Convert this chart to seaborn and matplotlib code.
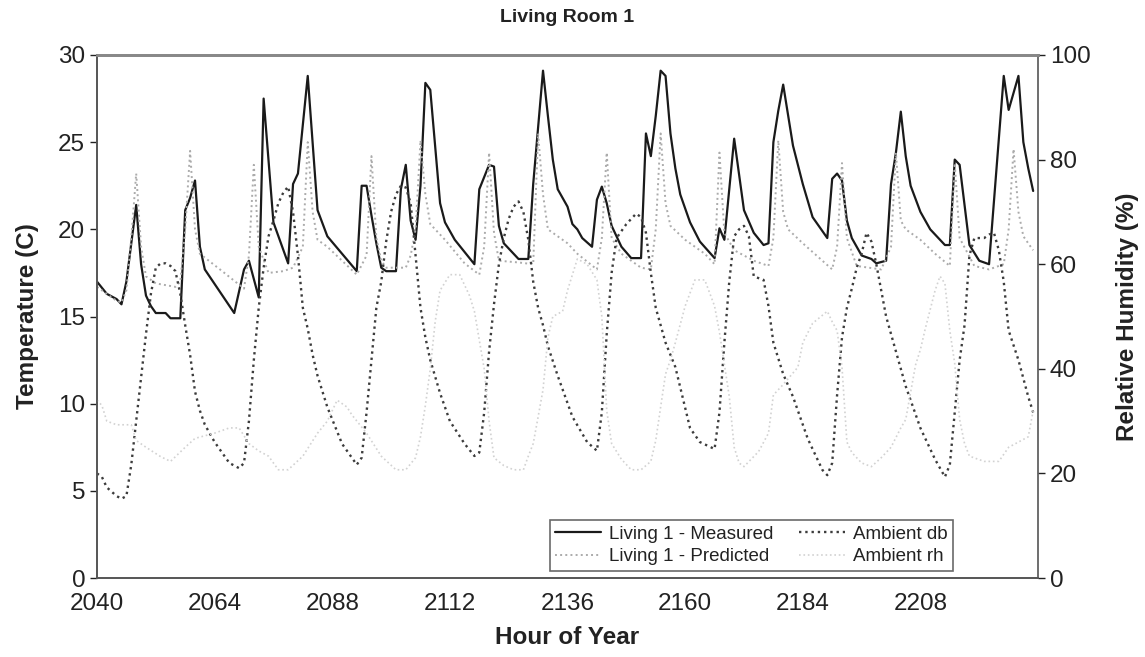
import numpy as np
import matplotlib
matplotlib.use("Agg")
import matplotlib.pyplot as plt
import seaborn as sns

# Living room 1 - hourly traces
meas_hour = [2040, 2042, 2044, 2045, 2046, 2048, 2049, 2050, 2051, 2052, 2054, 2055, 2057, 2058, 2059,
             2060, 2061, 2062, 2068, 2070, 2071, 2073, 2074, 2076, 2079, 2080, 2081, 2083, 2085, 2087,
             2093, 2094, 2095, 2096, 2097, 2098, 2099, 2101, 2102, 2103, 2104, 2105, 2106, 2107, 2108,
             2110, 2111, 2113, 2117, 2118, 2120, 2121, 2122, 2123, 2125, 2126, 2128, 2129, 2131, 2132,
             2133, 2134, 2136, 2137, 2138, 2139, 2141, 2142, 2143, 2144, 2145, 2147, 2149, 2151, 2152,
             2153, 2154, 2155, 2156, 2157, 2158, 2159, 2161, 2163, 2166, 2167, 2168, 2170, 2172, 2174,
             2176, 2177, 2178, 2179, 2180, 2182, 2184, 2186, 2189, 2190, 2191, 2192, 2193, 2194, 2196,
             2198, 2199, 2201, 2202, 2203, 2204, 2205, 2206, 2208, 2210, 2213, 2214, 2215, 2216, 2218,
             2220, 2222, 2225, 2226, 2228, 2229, 2230, 2231]
meas_temp = [17.0, 16.3, 16.0, 15.7, 17.0, 21.4, 18.0, 16.2, 15.6, 15.2, 15.2, 14.9, 14.9, 21.1, 21.8,
             22.8, 19.0, 17.7, 15.2, 17.7, 18.2, 16.1, 27.5, 20.4, 18.05, 22.6, 23.2, 28.8, 21.1, 19.6,
             17.6, 22.5, 22.5, 20.8, 19.2, 17.8, 17.6, 17.6, 22.3, 23.7, 20.5, 19.4, 22.5, 28.4, 28.0,
             21.5, 20.4, 19.4, 18.0, 22.3, 23.7, 23.6, 20.2, 19.2, 18.6, 18.3, 18.3, 22.6, 29.1, 26.5,
             24.0, 22.3, 21.3, 20.3, 20.0, 19.5, 19.0, 21.7, 22.45, 21.5, 20.2, 19.0, 18.35, 18.35, 25.5,
             24.2, 26.5, 29.1, 28.8, 25.5, 23.5, 22.0, 20.4, 19.3, 18.35, 20.06, 19.4, 25.2, 21.1, 19.8,
             19.1, 19.2, 25.0, 26.8, 28.3, 24.8, 22.6, 20.7, 19.5, 22.9, 23.2, 22.8, 20.5, 19.5, 18.5,
             18.3, 18.05, 18.2, 22.6, 24.4, 26.75, 24.2, 22.5, 21.0, 20.0, 19.1, 19.1, 24.0, 23.7, 19.1,
             18.2, 18.0, 28.8, 26.85, 28.8, 25.0, 23.5, 22.2]

pred_hour = [2040, 2042, 2044, 2045, 2046, 2047, 2048, 2049, 2050, 2052, 2056, 2057, 2058, 2059, 2060,
             2061, 2066, 2070, 2071, 2072, 2073, 2075, 2078, 2080, 2082, 2083, 2084, 2085, 2087, 2093,
             2095, 2096, 2097, 2098, 2099, 2103, 2104, 2105, 2106, 2107, 2108, 2111, 2115, 2118, 2119,
             2120, 2121, 2122, 2126, 2129, 2130, 2131, 2132, 2136, 2138, 2142, 2143, 2144, 2145, 2147,
             2151, 2153, 2154, 2155, 2156, 2157, 2160, 2164, 2166, 2167, 2168, 2170, 2174, 2177, 2178,
             2179, 2180, 2181, 2184, 2188, 2190, 2191, 2192, 2193, 2195, 2200, 2202, 2203, 2204, 2205,
             2208, 2211, 2214, 2215, 2216, 2219, 2222, 2225, 2226, 2227, 2228, 2229, 2231]
pred_temp = [16.7, 16.3, 15.9, 15.8, 16.5, 19.5, 23.2, 19.0, 17.3, 16.9, 16.7, 17.0, 20.0, 24.5, 20.0,
             18.6, 17.5, 16.6, 18.5, 23.7, 19.0, 17.5, 17.6, 17.8, 19.0, 25.0, 21.0, 19.4, 19.0, 17.4,
             18.5, 24.2, 19.5, 18.2, 17.8, 17.8, 18.5, 20.0, 25.1, 22.0, 20.3, 19.4, 18.05, 17.4, 19.0,
             24.4, 19.8, 18.2, 18.1, 18.0, 25.5, 22.0, 20.0, 19.2, 18.6, 17.7, 19.5, 24.4, 19.5, 18.6,
             17.8, 17.7, 20.0, 25.5, 21.5, 20.2, 19.4, 18.6, 18.0, 24.4, 19.8, 18.8, 18.2, 17.9, 19.5,
             25.1, 21.0, 20.0, 19.2, 18.2, 17.7, 19.0, 23.8, 19.5, 17.9, 17.7, 19.0, 24.4, 20.5, 20.0,
             19.4, 18.6, 17.9, 23.8, 19.5, 17.9, 17.7, 18.0, 20.0, 24.6, 21.0, 19.6, 18.8]

db_hour = [2040, 2041, 2042, 2044, 2045, 2046, 2047, 2048, 2049, 2050, 2051, 2052, 2053, 2054, 2055,
           2056, 2057, 2058, 2059, 2060, 2061, 2062, 2064, 2067, 2069, 2070, 2071, 2072, 2073, 2074,
           2075, 2076, 2077, 2078, 2079, 2080, 2081, 2082, 2083, 2084, 2085, 2087, 2090, 2093, 2094,
           2095, 2096, 2097, 2098, 2099, 2100, 2101, 2102, 2103, 2104, 2105, 2106, 2107, 2108, 2110,
           2112, 2115, 2117, 2118, 2119, 2120, 2121, 2122, 2123, 2124, 2125, 2126, 2127, 2128, 2129,
           2130, 2131, 2132, 2134, 2137, 2140, 2142, 2143, 2144, 2145, 2146, 2148, 2150, 2151, 2152,
           2153, 2154, 2156, 2158, 2161, 2163, 2166, 2167, 2168, 2169, 2170, 2171, 2172, 2173, 2174,
           2176, 2177, 2178, 2180, 2182, 2185, 2188, 2189, 2190, 2191, 2192, 2193, 2194, 2195, 2196,
           2197, 2198, 2199, 2200, 2201, 2202, 2205, 2208, 2211, 2213, 2214, 2215, 2216, 2217, 2218,
           2219, 2221, 2222, 2223, 2224, 2225, 2226, 2228, 2230, 2231]
db_temp = [6.0, 5.8, 5.2, 4.7, 4.55, 4.7, 6.5, 9.0, 11.5, 14.0, 16.3, 17.8, 18.05, 18.05, 17.9,
           17.6, 16.3, 14.5, 12.8, 10.7, 9.6, 8.8, 7.8, 6.6, 6.3, 6.6, 9.0, 12.5, 15.5, 17.8,
           19.6, 20.5, 21.5, 22.1, 22.45, 21.0, 18.5, 15.5, 14.3, 12.8, 11.6, 9.8, 7.7, 6.5, 6.9,
           9.5, 12.5, 15.5, 17.0, 19.3, 21.0, 22.0, 22.5, 22.4, 21.5, 18.5, 15.5, 13.8, 12.5, 10.6,
           9.0, 7.7, 7.0, 7.2, 9.5, 13.0, 15.7, 18.0, 19.5, 20.6, 21.3, 21.6, 21.0, 19.4, 17.0,
           15.5, 14.5, 13.3, 11.6, 9.25, 7.8, 7.3, 9.5, 14.0, 17.5, 19.5, 20.3, 20.9, 20.7, 19.8,
           17.5, 15.5, 13.5, 12.1, 8.6, 7.8, 7.4, 9.5, 13.5, 17.0, 19.6, 20.0, 20.2, 19.6, 17.3,
           17.1, 15.6, 13.5, 11.7, 10.4, 8.0, 6.2, 5.9, 6.6, 10.5, 13.8, 15.5, 16.6, 17.8, 18.6,
           19.8, 19.3, 18.0, 16.5, 15.0, 14.0, 11.0, 8.6, 6.8, 5.8, 6.5, 9.5, 12.5, 14.5, 18.5,
           19.5, 19.5, 19.7, 19.8, 18.8, 17.0, 14.2, 12.5, 10.4, 9.5]

rh_hour = [2040, 2041, 2042, 2044, 2047, 2048, 2050, 2053, 2055, 2058, 2060, 2064, 2067, 2069, 2071,
           2073, 2075, 2077, 2079, 2082, 2085, 2087, 2089, 2091, 2092, 2095, 2098, 2101, 2103, 2105,
           2106, 2107, 2108, 2109, 2110, 2112, 2114, 2116, 2117, 2118, 2119, 2120, 2121, 2123, 2125,
           2127, 2128, 2129, 2130, 2131, 2132, 2133, 2135, 2136, 2138, 2140, 2142, 2143, 2144, 2145,
           2147, 2149, 2151, 2153, 2154, 2155, 2156, 2157, 2158, 2160, 2162, 2164, 2166, 2167, 2169,
           2170, 2171, 2172, 2175, 2177, 2178, 2180, 2183, 2184, 2186, 2189, 2190, 2191, 2192, 2193,
           2194, 2196, 2198, 2200, 2202, 2204, 2205, 2207, 2208, 2209, 2211, 2212, 2213, 2214, 2215,
           2216, 2217, 2218, 2221, 2224, 2226, 2228, 2230, 2231]
rh_pct = [34, 33, 30, 29.3, 29.3, 26.3, 25, 23.2, 22.3, 25, 26.7, 27.7, 28.7, 28.7, 25.7,
          24.3, 23.3, 20.7, 20.7, 23.3, 27.7, 30, 34, 32.7, 31.2, 27.7, 23.3, 20.7, 20.7, 23,
          27, 33, 40, 49, 55, 58, 58, 54, 51, 45.5, 40, 30, 23, 21.5, 20.7,
          20.7, 23.3, 25.7, 30.8, 36, 46, 50, 51, 55, 61, 60, 57, 50, 32, 25.7,
          22.7, 20.7, 20.7, 22.3, 26.3, 32.7, 39, 41.7, 45, 52, 57, 57, 52, 47, 34.7,
          25, 22, 21.3, 24.2, 27.7, 35, 37, 40.3, 45, 48.7, 51, 49, 47.3, 40.3, 26,
          24, 22, 21.3, 23, 25, 28.7, 30.3, 40.7, 43.7, 47.7, 55, 57.7, 56.3, 47.3, 41,
          30.3, 25.7, 23.3, 22.3, 22.3, 25, 26, 27, 32]

x_ticks = [2040, 2064, 2088, 2112, 2136, 2160, 2184, 2208]

sns.set_theme(style="white")
plt.rcParams['font.family'] = ['Liberation Sans', 'DejaVu Sans']

fig = plt.figure(figsize=(11.45, 6.57), dpi=100)
ax = fig.add_axes([0.0847, 0.1202, 0.8219, 0.7961])
ax2 = ax.twinx()

sns.lineplot(x=meas_hour, y=meas_temp, ax=ax, color='#1a1a1a', linewidth=1.6,
             label='Living 1 - Measured', legend=False)
sns.lineplot(x=pred_hour, y=pred_temp, ax=ax, color='#ababab', linewidth=1.4, linestyle=':',
             label='Living 1 - Predicted', legend=False)
sns.lineplot(x=db_hour, y=db_temp, ax=ax, color='#3c3c3c', linewidth=1.7, linestyle=':',
             label='Ambient db', legend=False)
sns.lineplot(x=rh_hour, y=rh_pct, ax=ax2, color='#d2d2d2', linewidth=1.2, linestyle=':',
             label='Ambient rh', legend=False)

ax.set_xlim(2040, 2232)
ax.set_ylim(0, 30)
ax2.set_ylim(0, 100)
ax.set_xticks(x_ticks)
ax.set_yticks(np.arange(0, 31, 5))
ax2.set_yticks(np.arange(0, 101, 20))

for a in (ax, ax2):
    a.tick_params(axis='both', which='major', labelsize=17.5, colors='#222222',
                  direction='out', length=5, width=1)
    for s in a.spines.values():
        s.set_color('#555555')
        s.set_linewidth(1.2)
ax.spines['top'].set_color('#888888')
ax.spines['top'].set_linewidth(2)
ax.spines['right'].set_visible(False)
ax2.spines['top'].set_color('#888888')
ax2.spines['top'].set_linewidth(2)
ax.tick_params(axis='x', pad=6)

ax.set_title('Living Room 1', fontsize=14, fontweight='bold', pad=24, color='#222222')
ax.set_xlabel('Hour of Year', fontsize=17.5, fontweight='bold', color='#222222', labelpad=8)
ax.set_ylabel('Temperature (C)', fontsize=17.5, fontweight='bold', color='#222222', labelpad=14)
ax2.set_ylabel('Relative Humidity (%)', fontsize=17.5, fontweight='bold', color='#222222', labelpad=18)

handles = ax.lines[:3] + ax2.lines[:1]
labels = [h.get_label() for h in handles]
leg = ax2.legend(handles, labels, ncol=2, loc='lower right', bbox_to_anchor=(0.9097, 0.0134),
                 borderaxespad=0, fontsize=13.5, frameon=True, fancybox=False,
                 handlelength=2.45, columnspacing=1.4, handletextpad=0.4,
                 labelspacing=0.3, borderpad=0.3)
leg.get_frame().set_edgecolor('#444444')
leg.get_frame().set_linewidth(1.2)
for t in leg.get_texts():
    t.set_color('#222222')

fig.savefig('out.png', dpi=100)
